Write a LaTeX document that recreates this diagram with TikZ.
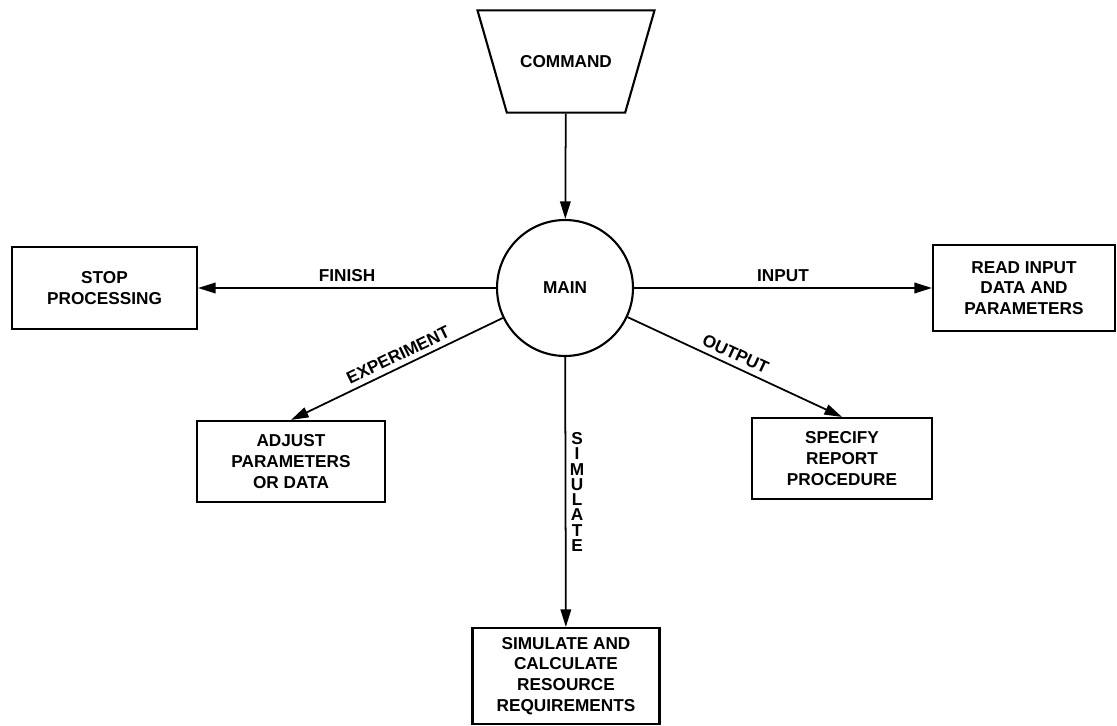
\documentclass[tikz,border=0pt]{standalone}
\usepackage{fontspec}
\setmainfont{Liberation Sans}
\usetikzlibrary{shapes.geometric,arrows.meta}
\begin{document}
\begin{tikzpicture}[x=0.02cm, y=0.02cm,
    every node/.style={font=\fontsize{9.8}{11.8}\selectfont\bfseries},
    blockbox/.style={draw, line width=1.2pt, align=center, inner sep=0pt},
    hub/.style={draw, circle, line width=1.2pt, minimum size=2.72cm},
    cmdshape/.style={draw, trapezium, shape border rotate=180, trapezium angle=74,
        trapezium stretches body, inner ysep=25.6pt, minimum width=3.54cm, line width=1.2pt},
    flow/.style={line width=1pt, -{Triangle[length=10pt,width=6pt]}},
    flowlabel/.style={midway, above, sloped, inner sep=3pt}]
    \useasboundingbox (0,0) rectangle (1117,-726);
    % command and main loop
    \node[cmdshape] (command) at (566,-61.5) {COMMAND};
    \node[hub] (main) at (565,-288) {MAIN};
    % the five branches
    \node[blockbox, minimum width=3.7cm, minimum height=1.64cm] (stop) at (104.5,-288) {STOP\\PROCESSING};
    \node[blockbox, minimum width=3.64cm, minimum height=1.72cm] (readin) at (1024,-288) {READ INPUT\\DATA AND\\PARAMETERS};
    \node[blockbox, minimum width=3.76cm, minimum height=1.62cm] (adjust) at (291,-461.5) {ADJUST\\PARAMETERS\\OR DATA};
    \node[blockbox, minimum width=3.6cm, minimum height=1.62cm] (report) at (842,-458.5) {SPECIFY\\REPORT\\PROCEDURE};
    \node[blockbox, minimum width=3.74cm, minimum height=1.92cm] (simcalc) at (566,-676) {SIMULATE AND\\CALCULATE\\RESOURCE\\REQUIREMENTS};
    % connectors
    \draw[flow] (command) -- (main);
    \draw[flow] (main) -- (stop) node[flowlabel] {FINISH};
    \draw[flow] (main) -- (readin) node[flowlabel] {INPUT};
    \draw[flow] (main) -- (adjust.north) node[flowlabel, pos=0.47] {EXPERIMENT};
    \draw[flow] (main) -- (report.north) node[flowlabel, pos=0.48] {OUTPUT};
    \draw[flow] (main) -- (simcalc) node[midway, right, align=center, inner sep=2pt,
        font=\fontsize{9.8}{8.7}\selectfont\bfseries] {S\\I\\M\\U\\L\\A\\T\\E};
\end{tikzpicture}
\end{document}
